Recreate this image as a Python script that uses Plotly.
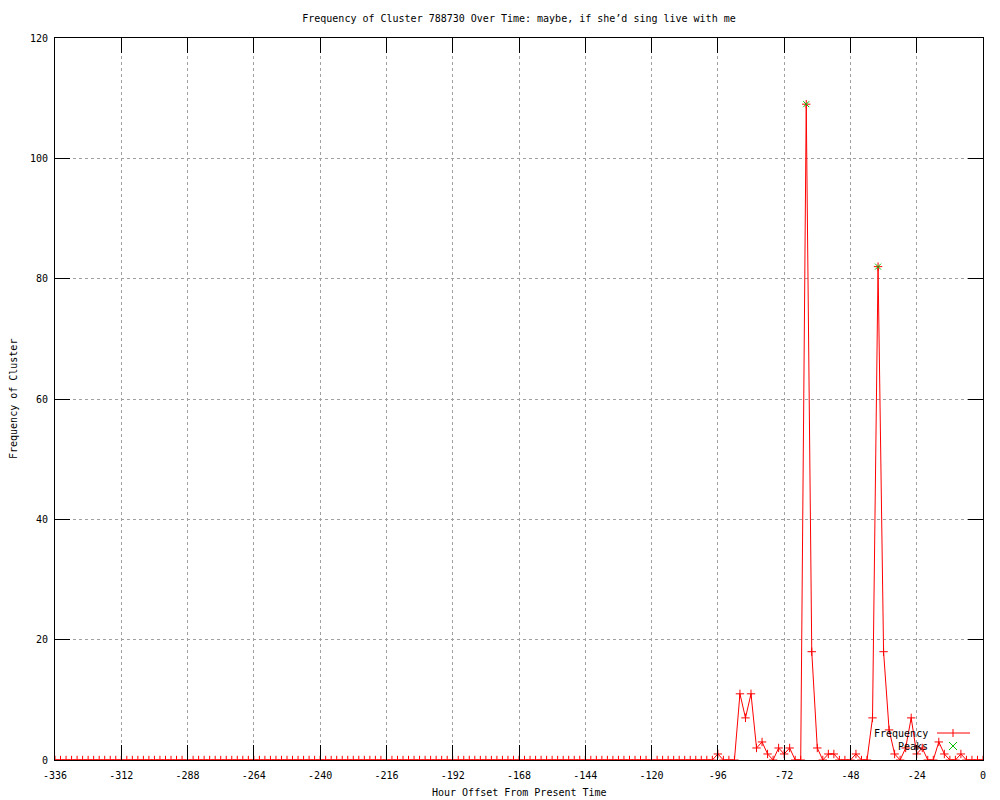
import plotly.graph_objects as go

# ---- data ----
hours = list(range(-336, 1, 2))  # sample every 2 hours
frequency = [
    0, 0, 0, 0, 0, 0, 0, 0, 0, 0, 0, 0, 0, 0, 0, 0, 0, 0, 0, 0,   # -336 .. -298
    0, 0, 0, 0, 0, 0, 0, 0, 0, 0, 0, 0, 0, 0, 0, 0, 0, 0, 0, 0,   # -296 .. -258
    0, 0, 0, 0, 0, 0, 0, 0, 0, 0, 0, 0, 0, 0, 0, 0, 0, 0, 0, 0,   # -256 .. -218
    0, 0, 0, 0, 0, 0, 0, 0, 0, 0, 0, 0, 0, 0, 0, 0, 0, 0, 0, 0,   # -216 .. -178
    0, 0, 0, 0, 0, 0, 0, 0, 0, 0, 0, 0, 0, 0, 0, 0, 0, 0, 0, 0,   # -176 .. -138
    0, 0, 0, 0, 0, 0, 0, 0, 0, 0, 0, 0, 0, 0, 0, 0, 0, 0, 0,      # -136 .. -100
    0, 1, 0, 0, 0, 11, 7, 11, 2, 3,                               # -98 .. -80
    1, 0, 2, 1, 2, 0, 0, 109, 18, 2,                              # -78 .. -60
    0, 1, 1, 0, 0, 0, 1, 0, 0, 7,                                 # -58 .. -40
    82, 18, 5, 1, 0, 2, 7, 1, 2, 0,                               # -38 .. -20
    0, 3, 1, 0, 0, 1, 0, 0, 0, 0,                                 # -18 .. 0
]
peak_hours = [-64, -38]
peak_values = [109, 82]

x_tick_vals = [-336, -312, -288, -264, -240, -216, -192, -168, -144, -120, -96, -72, -48, -24, 0]
x_tick_text = ["-336", "-312", "-288", "-264", "-240", "-216", "-192", "-168", "-144",
               "-120", "-96", "-72", "-48", "-24", "0"]
y_tick_vals = [0, 20, 40, 60, 80, 100, 120]
y_tick_text = ["0", "20", "40", "60", "80", "100", "120"]

title_text = "Frequency of Cluster 788730 Over Time: maybe, if she\u2019d sing live with me"
x_title = "Hour Offset From Present Time"
y_title = "Frequency of Cluster"
legend_names = ["Frequency", "Peaks"]

FONT = "DejaVu Sans Mono"
RED = "#ff0000"
GREEN = "#00c000"

# page has an 8px body margin, so the figure is 992x792
W, H = 992, 792
ML, MR, MT, MB = 47, 17, 30, 40

fig = go.Figure()
fig.add_trace(go.Scatter(
    x=hours, y=frequency, mode="lines+markers", name=legend_names[0],
    line=dict(color=RED, width=1),
    marker=dict(symbol="cross-thin", size=6, color=RED, line=dict(color=RED, width=1)),
    showlegend=False,
))
fig.add_trace(go.Scatter(
    x=peak_hours, y=peak_values, mode="markers", name=legend_names[1],
    marker=dict(symbol="x-thin", size=6, color=GREEN, line=dict(color=GREEN, width=1)),
    showlegend=False,
))

axis_common = dict(
    showline=True, linecolor="black", linewidth=1, mirror="ticks",
    ticks="inside", ticklen=15, tickcolor="black", tickwidth=1,
    showgrid=True, gridcolor="#a0a0a0", griddash="3px,3px", gridwidth=1,
    zeroline=False, tickfont=dict(family=FONT, size=10, color="black"),
    automargin=False,
)

fig.update_layout(
    width=W, height=H,
    paper_bgcolor="white", plot_bgcolor="white",
    margin=dict(l=ML, r=MR, t=MT, b=MB, pad=0),
    title=dict(text=title_text, x=0.5, xref="paper", y=1 - 10 / H, yanchor="middle",
               font=dict(family=FONT, size=10, color="black")),
    xaxis=dict(range=[-336, 0], tickvals=x_tick_vals, ticktext=x_tick_text,
               ticklabelstandoff=6, **axis_common),
    yaxis=dict(range=[0, 120], tickvals=y_tick_vals, ticktext=y_tick_text,
               ticklabelstandoff=4, **axis_common),
    font=dict(family=FONT, size=10, color="black"),
)

# axis titles
fig.add_annotation(text=x_title, xref="paper", yref="paper", x=0.5, y=0,
                   yshift=-32, showarrow=False, yanchor="middle",
                   font=dict(family=FONT, size=10, color="black"))
fig.add_annotation(text=y_title, xref="paper", yref="paper", x=0, y=0.5,
                   xshift=-42, showarrow=False, textangle=-90, xanchor="center",
                   font=dict(family=FONT, size=10, color="black"))

# gnuplot-style key (text, then sample) at bottom-right inside the plot
pw, ph = 928.0, 722.0
key_text_x = (930 - 55) / pw
key_rows = [(760 - 733) / ph, (760 - 746) / ph]
sample_x0, sample_x1 = (937 - 55) / pw, (970 - 55) / pw
sample_mid = (953 - 55) / pw

for name, yy in zip(legend_names, key_rows):
    fig.add_annotation(text=name, xref="paper", yref="paper", x=key_text_x, y=yy,
                       xanchor="right", yanchor="middle", showarrow=False,
                       font=dict(family=FONT, size=10, color="black"))

# Frequency sample: line with a plus
fig.add_shape(type="line", xref="paper", yref="paper", x0=sample_x0, x1=sample_x1,
              y0=key_rows[0], y1=key_rows[0], line=dict(color=RED, width=1))
fig.add_shape(type="line", xref="paper", yref="paper", xsizemode="pixel", ysizemode="pixel",
              xanchor=sample_mid, yanchor=key_rows[0], x0=0, x1=0, y0=-4, y1=4,
              line=dict(color=RED, width=1))
# Peaks sample: green x
for (a, b) in [(-4, 4), (4, -4)]:
    fig.add_shape(type="line", xref="paper", yref="paper", xsizemode="pixel", ysizemode="pixel",
                  xanchor=sample_mid, yanchor=key_rows[1], x0=-4, x1=4, y0=a, y1=b,
                  line=dict(color=GREEN, width=1))

fig.write_html("out.html")
